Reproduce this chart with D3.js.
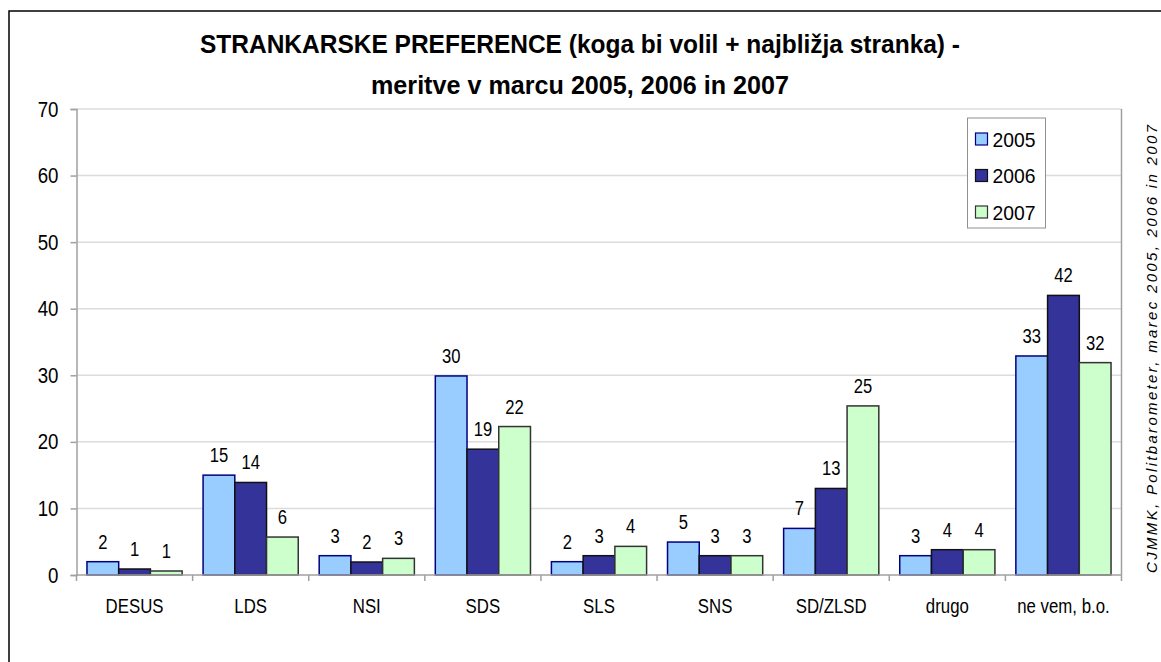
<!DOCTYPE html>
<html>
<head>
<meta charset="utf-8">
<script src="https://cdn.jsdelivr.net/npm/d3@7"></script>
<style>
  body { margin: 0; background: #fff; }
  text { font-family: "Liberation Sans", Arial, sans-serif; }
</style>
</head>
<body>
<div class="chart"></div>
<script>
// data
var categories = ["DESUS", "LDS", "NSI", "SDS", "SLS", "SNS", "SD/ZLSD", "drugo", "ne vem, b.o."];
var years = ["2005", "2006", "2007"];
var values2005 = [2.0, 15.0, 2.9, 29.9, 2.0, 4.95, 7.0, 2.9, 32.9];
var values2006 = [0.9, 13.9, 1.95, 18.9, 2.9, 2.9, 13.0, 3.8, 42.0];
var values2007 = [0.6, 5.7, 2.5, 22.3, 4.3, 2.9, 25.4, 3.8, 31.9];
var yTicks = [0, 10, 20, 30, 40, 50, 60, 70];
var colors = { "2005": "#99ccff", "2006": "#333399", "2007": "#ccffcc" };
var strokes = { "2005": "#000080", "2006": "#111111", "2007": "#333333" };

var titleLines = ["STRANKARSKE PREFERENCE (koga bi volil + najbližja stranka) -",
                  "meritve v marcu 2005, 2006 in 2007"];
var sourceText = "CJMMK, Politbarometer, marec 2005, 2006 in 2007";

var svgWidth = 1161, svgHeight = 662;
var margin = { top: 109, right: 1161 - 1121.5, bottom: 662 - 575, left: 76.5 };

// squeeze text horizontally, the original uses a narrow font
function narrow(sel, k) {
    sel.each(function() {
        var w = this.getComputedTextLength();
        d3.select(this).attr("textLength", w * k).attr("lengthAdjust", "spacingAndGlyphs");
    });
}

var svg = d3.select(".chart").append("svg")
    .attr("width", svgWidth)
    .attr("height", svgHeight);

svg.append("rect").attr("width", svgWidth).attr("height", svgHeight).attr("fill", "#fff");

// outer frame (runs off the right and bottom edges)
svg.append("rect")
    .attr("x", 9).attr("y", 11)
    .attr("width", 1200).attr("height", 700)
    .attr("fill", "none")
    .attr("stroke", "#000")
    .attr("stroke-width", 1.5);

var x0 = d3.scaleBand()
    .domain(categories)
    .range([margin.left, svgWidth - margin.right]);

var x1 = d3.scaleBand()
    .domain(years)
    .range([0, x0.bandwidth()])
    .paddingOuter(0.33);

var y = d3.scaleLinear()
    .domain([0, 70])
    .range([svgHeight - margin.bottom, margin.top]);

// grid lines
svg.append("g")
    .selectAll("line")
    .data(yTicks.filter(function(d) { return d > 0; }))
    .enter().append("line")
    .attr("x1", margin.left).attr("x2", svgWidth - margin.right)
    .attr("y1", function(d) { return y(d); })
    .attr("y2", function(d) { return y(d); })
    .attr("stroke", "#dcdcdc")
    .attr("stroke-width", 1.5);

// plot border right side
svg.append("line")
    .attr("x1", svgWidth - margin.right).attr("x2", svgWidth - margin.right)
    .attr("y1", margin.top).attr("y2", y(0) + 6)
    .attr("stroke", "#a0a0a0").attr("stroke-width", 1.5);

// y axis
var yAxis = d3.axisLeft(y).tickValues(yTicks).tickSize(6).tickPadding(12);
var gy = svg.append("g")
    .attr("transform", "translate(" + margin.left + ",0)")
    .call(yAxis);
gy.select(".domain").attr("stroke", "#a0a0a0").attr("stroke-width", 1.5);
gy.selectAll(".tick line").attr("stroke", "#a0a0a0").attr("stroke-width", 1.5);
gy.selectAll(".tick text").attr("font-size", 22).attr("fill", "#000")
    .attr("font-family", "Liberation Sans, Arial, sans-serif")
    .call(narrow, 0.85);

// bars
var rows = categories.map(function(c, i) {
    return { cat: c, vals: [
        { year: "2005", v: values2005[i] },
        { year: "2006", v: values2006[i] },
        { year: "2007", v: values2007[i] }
    ] };
});

var groups = svg.append("g").selectAll("g")
    .data(rows)
    .enter().append("g")
    .attr("transform", function(d) { return "translate(" + x0(d.cat) + ",0)"; });

groups.selectAll("rect")
    .data(function(d) { return d.vals; })
    .enter().append("rect")
    .attr("x", function(d) { return x1(d.year); })
    .attr("y", function(d) { return y(d.v); })
    .attr("width", x1.bandwidth())
    .attr("height", function(d) { return y(0) - y(d.v); })
    .attr("fill", function(d) { return colors[d.year]; })
    .attr("stroke", function(d) { return strokes[d.year]; })
    .attr("stroke-width", 1.5);

groups.selectAll("text")
    .data(function(d) { return d.vals; })
    .enter().append("text")
    .attr("x", function(d) { return x1(d.year) + x1.bandwidth() / 2; })
    .attr("y", function(d) { return y(d.v) - 13; })
    .attr("text-anchor", "middle")
    .attr("font-size", 20)
    .text(function(d) { return Math.round(d.v); })
    .call(narrow, 0.83);

// x axis
var gx = svg.append("g")
    .attr("transform", "translate(0," + y(0) + ")");
gx.append("line")
    .attr("x1", margin.left).attr("x2", svgWidth - margin.right)
    .attr("stroke", "#a0a0a0").attr("stroke-width", 1.5);
gx.selectAll(".sep")
    .data(categories.slice(1))
    .enter().append("line")
    .attr("class", "sep")
    .attr("x1", function(d) { return x0(d); })
    .attr("x2", function(d) { return x0(d); })
    .attr("y1", 0).attr("y2", 6)
    .attr("stroke", "#a0a0a0").attr("stroke-width", 1.5);
gx.append("line")
    .attr("x1", margin.left).attr("x2", margin.left)
    .attr("y1", 0).attr("y2", 6)
    .attr("stroke", "#a0a0a0").attr("stroke-width", 1.5);
gx.selectAll(".lab")
    .data(categories)
    .enter().append("text")
    .attr("class", "lab")
    .attr("x", function(d) { return x0(d) + x0.bandwidth() / 2; })
    .attr("y", 38)
    .attr("text-anchor", "middle")
    .attr("font-size", 20)
    .text(function(d) { return d; })
    .call(narrow, 0.84);

// title
svg.append("g").selectAll("text")
    .data(titleLines)
    .enter().append("text")
    .attr("x", 580)
    .attr("y", function(d, i) { return 53 + i * 41; })
    .attr("text-anchor", "middle")
    .attr("font-size", 26)
    .attr("font-weight", "bold")
    .attr("textLength", function(d, i) { return i === 0 ? 760 : 418; })
    .attr("lengthAdjust", "spacingAndGlyphs")
    .text(function(d) { return d; });

// legend
var legend = svg.append("g").attr("transform", "translate(967.5,118)");
legend.append("rect")
    .attr("width", 78).attr("height", 110)
    .attr("fill", "#fff").attr("stroke", "#909090").attr("stroke-width", 1);
var items = legend.selectAll(".item")
    .data(years)
    .enter().append("g")
    .attr("class", "item")
    .attr("transform", function(d, i) { return "translate(0," + (21 + i * 36.5) + ")"; });
items.append("rect")
    .attr("x", 8).attr("y", -6)
    .attr("width", 12).attr("height", 12)
    .attr("fill", function(d) { return colors[d]; })
    .attr("stroke", function(d) { return strokes[d]; })
    .attr("stroke-width", 1.2);
items.append("text")
    .attr("x", 25).attr("y", 7.5)
    .attr("font-size", 21)
    .text(function(d) { return d; })
    .call(narrow, 0.92);

// source text, rotated
svg.append("text")
    .attr("transform", "translate(1157,349) rotate(-90)")
    .attr("text-anchor", "middle")
    .attr("font-size", 15)
    .attr("font-style", "italic")
    .attr("textLength", 448)
    .attr("lengthAdjust", "spacing")
    .text(sourceText);
</script>
</body>
</html>
